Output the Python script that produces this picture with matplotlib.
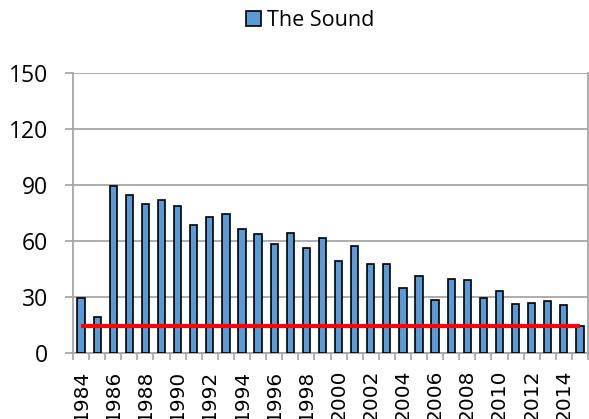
import numpy as np
import matplotlib.pyplot as plt
from matplotlib.patches import Patch

years = list(range(1984, 2016))
counts = [29.5, 19.5, 89.5, 84.5, 80, 82, 78.5, 68.5, 73, 74.5,
          66.5, 63.5, 58.5, 64.5, 56.5, 61.5, 49.5, 57.5, 47.5, 47.5,
          35, 41, 28.5, 39.5, 39, 29.5, 33, 26.5, 27, 28, 25.5, 14.5]
target = 14.5
series_name = "The Sound"

bar_color = "#5B9BD5"
grid_color = "#A6A6A6"

fig = plt.figure(figsize=(5.89, 4.19), dpi=100)
ax = fig.add_axes([73 / 589, 1 - 353 / 419, 515 / 589, 280 / 419])

x = np.arange(len(years))
ax.bar(x, counts, width=0.45, color=bar_color, edgecolor="black",
       linewidth=1.2, zorder=3)

# flat reference line across all years
ax.plot([x[0], x[-1]], [target, target], color="red", lw=3,
        solid_capstyle="butt", zorder=4)

ax.set_xlim(-0.5, len(years) - 0.5)
ax.set_ylim(0, 150)
ax.set_yticks(np.arange(0, 151, 30))
ax.yaxis.grid(True, color=grid_color, lw=1.3, zorder=0)
ax.set_axisbelow(True)

# labels every other year at bar centres, tick marks between categories
ax.set_xticks(x[::2])
ax.set_xticklabels([str(y) for y in years[::2]], rotation=90,
                   fontsize=14.5, family="DejaVu Sans", va="top")
ax.set_xticks(np.arange(-0.5, len(years), 1), minor=True)
ax.tick_params(axis="x", which="major", length=0, pad=12)
ax.tick_params(axis="x", which="minor", length=5, color=grid_color, width=1.2)
ax.tick_params(axis="y", length=6, color=grid_color, width=1.3, pad=12)
for lbl in ax.get_yticklabels():
    lbl.set_family("Open Sans")
    lbl.set_fontsize(16.5)

ax.spines["top"].set_visible(False)
for side in ["left", "bottom", "right"]:
    ax.spines[side].set_color(grid_color)
    ax.spines[side].set_linewidth(1.3)

handle = Patch(facecolor=bar_color, edgecolor="black", linewidth=1.2)
fig.legend([handle], [series_name], loc="center",
           bbox_to_anchor=(310 / 589, 1 - 21 / 419), frameon=False,
           prop={"family": "Open Sans", "size": 15.5},
           handlelength=0.7, handleheight=0.7, handletextpad=0.3)

fig.savefig("out.png", dpi=100)
